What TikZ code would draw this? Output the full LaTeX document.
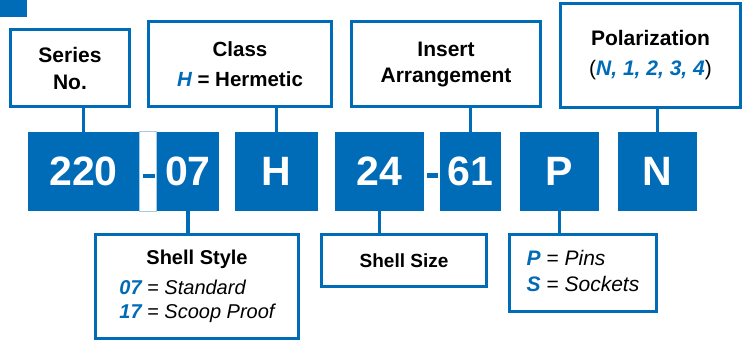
\documentclass[tikz,border=0pt]{standalone}
\usepackage{fontspec}
\setmainfont{Liberation Sans}
\definecolor{partblue}{RGB}{0,107,182}
\newcommand{\bl}[1]{\textcolor{partblue}{\bfseries\itshape #1}}
\tikzset{
    labelbox/.style={draw=partblue, line width=3pt, fill=white, inner sep=0pt,
        align=center, font=\bfseries\fontsize{21}{27}\selectfont},
    codebox/.style={fill=partblue, text=white, inner sep=0pt, minimum height=79pt,
        font=\bfseries\fontsize{41}{41}\selectfont},
    link/.style={draw=partblue, line width=3.5pt}
}
\begin{document}
\begin{tikzpicture}[x=1pt, y=-1pt]
    \useasboundingbox (0,0) rectangle (743,341);
    \fill[partblue] (0,0) rectangle (27,17);
    % part number boxes
    \node[codebox, minimum width=111pt] (c220) at (83.5,171.5) {220};
    \node[codebox, minimum width=62pt] (c07) at (188,171.5) {07};
    \node[codebox, minimum width=83pt] (cH) at (276.5,171.5) {H};
    \node[codebox, minimum width=89pt] (c24) at (379.5,171.5) {24};
    \node[codebox, minimum width=61pt] (c61) at (470.5,171.5) {61};
    \node[codebox, minimum width=79pt] (cP) at (559.5,171.5) {P};
    \node[codebox, minimum width=79pt] (cN) at (657.5,171.5) {N};
    \draw[partblue!35, line width=1pt] (c220.north east) rectangle (c07.south west);
    \fill[partblue] (143,174) rectangle (155,178);
    \fill[partblue] (427,173) rectangle (438,178);
    % labels above
    \node[labelbox, minimum width=119pt, minimum height=77pt] (series) at (70,68) {Series\\No.};
    \node[labelbox, minimum width=183pt, minimum height=85pt,
        font=\bfseries\fontsize{20.5}{30}\selectfont] (class) at (240,64) {Class\\\bl{H} = Hermetic};
    \node[labelbox, minimum width=189pt, minimum height=85pt,
        font=\bfseries\fontsize{21}{26}\selectfont] (insert) at (446,64) {Insert\\Arrangement};
    \node[labelbox, minimum width=180pt, minimum height=104pt,
        font=\bfseries\fontsize{21}{30}\selectfont] (polar) at (650.5,55.5)
        {Polarization\\{\mdseries(}\bl{N, 1, 2, 3, 4}{\mdseries)}};
    % labels below
    \node[labelbox, minimum width=203pt, minimum height=104pt,
        font=\fontsize{20}{24}\selectfont] (style) at (197,286.5)
        {\begin{tabular}{@{}l@{}}
            \multicolumn{1}{@{}c@{}}{\bfseries Shell Style}\\[6pt]
            \bl{07} = \itshape Standard\\
            \bl{17} = \itshape Scoop Proof
        \end{tabular}};
    \node[labelbox, minimum width=165pt, minimum height=52pt,
        font=\bfseries\fontsize{19}{24}\selectfont] (size) at (404,260.5) {Shell Size};
    \node[labelbox, minimum width=147pt, minimum height=77pt,
        font=\fontsize{21}{26}\selectfont] (pins) at (583,273)
        {\begin{tabular}{@{}l@{}}
            \bl{P} = \itshape Pins\\
            \bl{S} = \itshape Sockets
        \end{tabular}};
    % connectors
    \draw[link] (c220.north) -- (c220.north |- series.south);
    \draw[link] (cH.north) -- (cH.north |- class.south);
    \draw[link] (c61.north) -- (c61.north |- insert.south);
    \draw[link] (cN.north) -- (cN.north |- polar.south);
    \draw[link] (c07.south) -- (c07.south |- style.north);
    \draw[link] (c24.south) -- (c24.south |- size.north);
    \draw[link] (cP.south) -- (cP.south |- pins.north);
\end{tikzpicture}
\end{document}
